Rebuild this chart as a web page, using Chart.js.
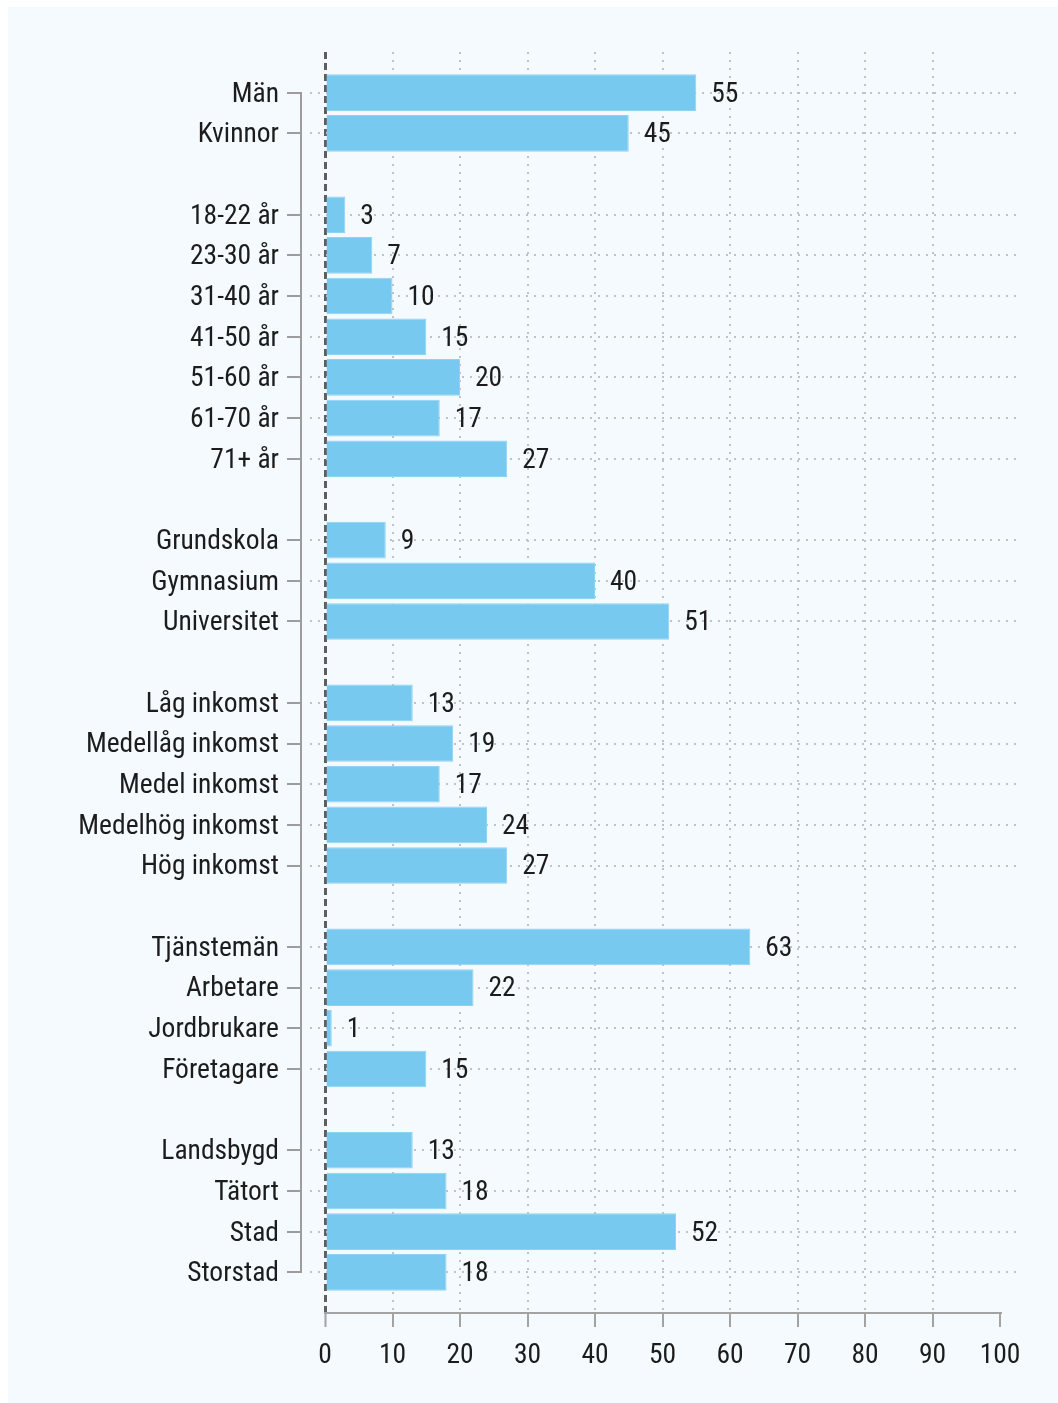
<!DOCTYPE html>
<html>
<head>
<meta charset="utf-8">
<script src="https://cdn.jsdelivr.net/npm/chart.js@4.4.1/dist/chart.umd.min.js"></script>
<style>
  html, body { margin: 0; padding: 0; background: #ffffff; }
  #wrap { position: absolute; left: 8px; top: 7px; width: 1050px; height: 1396px; background: #f4fafe; }
</style>
</head>
<body>
<div id="wrap"><canvas id="chart" width="1050" height="1396"></canvas></div>
<script>
// groups, top to bottom
var genderLabels = ['Män', 'Kvinnor'];
var genderValues = [55, 45];
var ageLabels = ['18-22 år', '23-30 år', '31-40 år', '41-50 år', '51-60 år', '61-70 år', '71+ år'];
var ageValues = [3, 7, 10, 15, 20, 17, 27];
var eduLabels = ['Grundskola', 'Gymnasium', 'Universitet'];
var eduValues = [9, 40, 51];
var incomeLabels = ['Låg inkomst', 'Medellåg inkomst', 'Medel inkomst', 'Medelhög inkomst', 'Hög inkomst'];
var incomeValues = [13, 19, 17, 24, 27];
var jobLabels = ['Tjänstemän', 'Arbetare', 'Jordbrukare', 'Företagare'];
var jobValues = [63, 22, 1, 15];
var areaLabels = ['Landsbygd', 'Tätort', 'Stad', 'Storstad'];
var areaValues = [13, 18, 52, 18];
var xTicks = [0, 10, 20, 30, 40, 50, 60, 70, 80, 90, 100];

var groups = [
  [genderLabels, genderValues],
  [ageLabels, ageValues],
  [eduLabels, eduValues],
  [incomeLabels, incomeValues],
  [jobLabels, jobValues],
  [areaLabels, areaValues]
];

// one empty row between groups
var rowLabels = [];
var points = [];
groups.forEach(function(g, gi) {
  if (gi > 0) rowLabels.push('');
  g[0].forEach(function(lab, i) {
    points.push({ x: g[1][i], y: rowLabels.length });
    rowLabels.push(lab);
  });
});
var labelRows = points.map(function(p) { return p.y; });

var FONT = '"Roboto Condensed", Roboto, sans-serif';
var FSIZE = 27.5;
var textColor = '#1c1c1c';
var dotColor = '#c2c2c2';
var axisGray = '#a3a3a3';

var decor = {
  id: 'decor',
  // dotted row lines, running a bit past both ends of the plot
  beforeDatasetsDraw: function(chart) {
    var ctx = chart.ctx, y = chart.scales.y, a = chart.chartArea;
    ctx.save();
    ctx.strokeStyle = dotColor;
    ctx.lineWidth = 2;
    ctx.setLineDash([2, 6]);
    labelRows.forEach(function(r) {
      var py = Math.round(y.getPixelForValue(r));
      ctx.beginPath();
      ctx.moveTo(a.left - 15, py);
      ctx.lineTo(a.right + 22, py);
      ctx.stroke();
    });
    ctx.restore();
  },
  afterDatasetsDraw: function(chart) {
    var ctx = chart.ctx, y = chart.scales.y, a = chart.chartArea;
    var meta = chart.getDatasetMeta(0);
    ctx.save();
    ctx.font = FSIZE + 'px ' + FONT;
    ctx.fillStyle = textColor;
    ctx.textAlign = 'left';
    ctx.textBaseline = 'middle';
    meta.data.forEach(function(bar, i) {
      ctx.fillText(String(points[i].x), bar.x + 15, bar.y + 2);
    });
    // bracket left of the labels
    var bx = a.left - 24;
    var top = Math.round(y.getPixelForValue(labelRows[0]));
    var bot = Math.round(y.getPixelForValue(labelRows[labelRows.length - 1]));
    ctx.strokeStyle = '#9c9c9c';
    ctx.lineWidth = 2;
    ctx.beginPath();
    ctx.moveTo(bx, top - 1);
    ctx.lineTo(bx, bot + 1);
    ctx.stroke();
    labelRows.forEach(function(r) {
      var py = Math.round(y.getPixelForValue(r));
      ctx.beginPath();
      ctx.moveTo(bx - 14, py);
      ctx.lineTo(bx + 1, py);
      ctx.stroke();
    });
    ctx.restore();
  }
};

new Chart(document.getElementById('chart'), {
  type: 'bar',
  data: {
    datasets: [{
      data: points,
      backgroundColor: '#78c9ef',
      borderColor: '#8fd3f3',
      borderWidth: 1,
      barPercentage: 0.9,
      categoryPercentage: 1
    }]
  },
  options: {
    indexAxis: 'y',
    responsive: false,
    animation: false,
    devicePixelRatio: 1,
    layout: { padding: { top: 45, right: 58, left: 0, bottom: 0 } },
    plugins: { legend: { display: false }, tooltip: { enabled: false } },
    scales: {
      x: {
        type: 'linear',
        min: 0,
        max: 100,
        afterBuildTicks: function(s) { s.ticks = xTicks.map(function(v) { return { value: v }; }); },
        afterFit: function(s) { s.height = 90; },
        grid: {
          color: function(c) {
            if (!c.tick) return dotColor;
            if (c.tick.value === 0) return '#5e5e5e';
            if (c.tick.value === 100) return 'rgba(0,0,0,0)';
            return dotColor;
          },
          lineWidth: function(c) { return (c.tick && c.tick.value === 0) ? 3 : 2; },
          tickColor: axisGray,
          tickWidth: 2,
          tickLength: 14,
          tickBorderDash: []
        },
        border: {
          color: axisGray,
          width: 2,
          dash: function(c) { return (c.tick && c.tick.value === 0) ? [7, 4] : [2, 6]; }
        },
        ticks: { color: textColor, font: { family: FONT, size: FSIZE }, padding: 13, maxRotation: 0 }
      },
      y: {
        type: 'linear',
        reverse: true,
        offset: false,
        min: -1,
        max: rowLabels.length,
        afterBuildTicks: function(s) { s.ticks = labelRows.map(function(v) { return { value: v }; }); },
        afterFit: function(s) { s.width = 317; s.paddingTop = 0; s.paddingBottom = 0; },
        grid: { display: true, drawOnChartArea: false, drawTicks: true, tickLength: 15, color: 'rgba(0,0,0,0)' },
        border: { display: false },
        ticks: {
          color: textColor,
          font: { family: FONT, size: FSIZE },
          padding: 31,
          labelOffset: 2,
          autoSkip: false,
          callback: function(v) { return rowLabels[v]; }
        }
      }
    }
  },
  plugins: [decor]
});
</script>
</body>
</html>
